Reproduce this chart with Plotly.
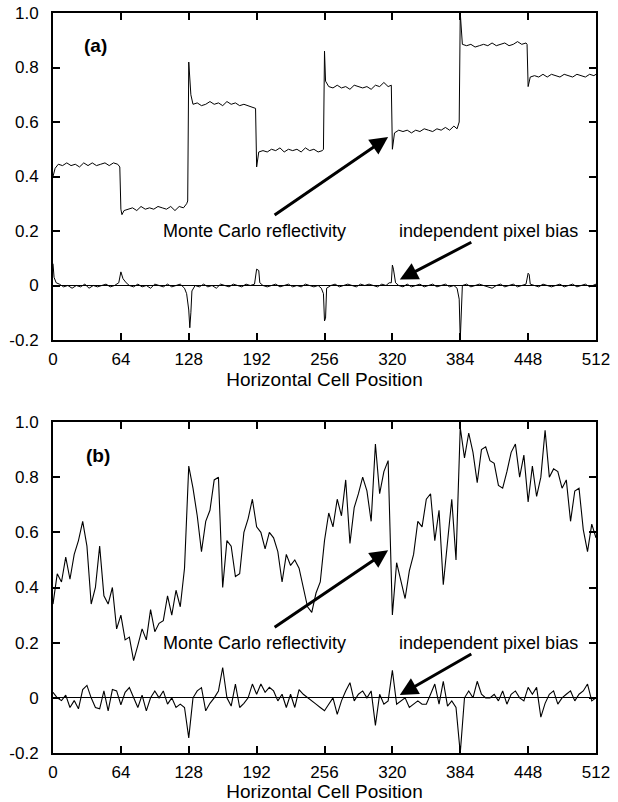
import plotly.graph_objects as go

# ---------------- data ----------------
# Panel (a): Monte Carlo reflectivity (cell position, value)
refl_a_x = [0, 2, 5, 9, 13, 17, 21, 25, 29, 33, 37, 41, 45, 49, 53, 57, 61, 63,
            64, 65, 67, 71, 75, 79, 83, 87, 91, 95, 99, 103, 107, 111, 115, 119, 123, 126, 127,
            128, 130, 132, 136, 140, 144, 148, 152, 156, 160, 164, 168, 172, 176, 180, 184, 188, 191,
            192, 194, 198, 202, 206, 210, 214, 218, 222, 226, 230, 234, 238, 242, 246, 250, 254, 255,
            256, 257, 260, 264, 268, 272, 276, 280, 284, 288, 292, 296, 300, 304, 308, 312, 316, 319,
            320, 322, 326, 330, 334, 338, 342, 346, 350, 354, 358, 362, 366, 370, 374, 378, 381, 383,
            384, 386, 390, 394, 398, 402, 406, 410, 414, 418, 422, 426, 430, 434, 438, 442, 446, 447,
            448, 450, 454, 458, 462, 466, 470, 474, 478, 482, 486, 490, 494, 498, 502, 506, 510, 512]
refl_a_y = [0.40, 0.43, 0.445, 0.44, 0.45, 0.44, 0.445, 0.435, 0.45, 0.44, 0.45, 0.44, 0.445, 0.45, 0.44, 0.45, 0.445, 0.435,
            0.28, 0.26, 0.275, 0.28, 0.285, 0.275, 0.29, 0.28, 0.285, 0.28, 0.29, 0.285, 0.28, 0.29, 0.275, 0.29, 0.285, 0.30, 0.31,
            0.82, 0.70, 0.665, 0.67, 0.66, 0.665, 0.675, 0.665, 0.67, 0.66, 0.675, 0.665, 0.67, 0.66, 0.665, 0.66, 0.655, 0.65,
            0.435, 0.49, 0.495, 0.49, 0.50, 0.495, 0.505, 0.49, 0.50, 0.495, 0.50, 0.49, 0.505, 0.495, 0.50, 0.49, 0.495, 0.50,
            0.86, 0.75, 0.73, 0.725, 0.735, 0.725, 0.73, 0.72, 0.735, 0.73, 0.725, 0.73, 0.72, 0.735, 0.73, 0.745, 0.73, 0.735,
            0.50, 0.56, 0.57, 0.565, 0.57, 0.56, 0.57, 0.565, 0.575, 0.57, 0.565, 0.575, 0.57, 0.58, 0.57, 0.585, 0.575, 0.60,
            1.0, 0.885, 0.88, 0.885, 0.875, 0.88, 0.885, 0.88, 0.89, 0.88, 0.885, 0.89, 0.88, 0.885, 0.895, 0.885, 0.89, 0.885,
            0.73, 0.765, 0.77, 0.765, 0.775, 0.765, 0.775, 0.77, 0.765, 0.775, 0.77, 0.765, 0.775, 0.77, 0.765, 0.775, 0.77, 0.775]

# Panel (a): independent pixel bias
bias_a_x = [0, 1, 3, 6, 10, 14, 18, 22, 26, 30, 34, 38, 42, 46, 50, 54, 58, 62,
            64, 66, 69, 72, 76, 80, 84, 88, 92, 96, 100, 104, 108, 112, 116, 120, 124, 126,
            128, 129, 130, 131, 134, 138, 142, 146, 150, 154, 158, 162, 166, 170, 174, 178, 182, 186, 190,
            192, 194, 195, 198, 202, 206, 210, 214, 218, 222, 226, 230, 234, 238, 242, 246, 250, 253, 255,
            256, 257, 258, 262, 266, 270, 274, 278, 282, 286, 290, 294, 298, 302, 306, 310, 314, 317, 319,
            320, 321, 323, 326, 330, 334, 338, 342, 346, 350, 354, 358, 362, 366, 370, 374, 378, 381, 383,
            384, 385, 386, 390, 394, 398, 402, 406, 410, 414, 418, 422, 426, 430, 434, 438, 442, 446,
            448, 449, 450, 454, 458, 462, 466, 470, 474, 478, 482, 486, 490, 494, 498, 502, 506, 510, 512]
bias_a_y = [0.08, 0.03, 0.01, 0.005, -0.005, 0.0, -0.01, 0.0, -0.005, 0.005, -0.01, 0.0, -0.005, 0.0, 0.005, -0.005, 0.0, 0.01,
            0.05, 0.025, 0.01, 0.0, -0.005, 0.005, -0.005, 0.0, -0.01, 0.005, 0.0, -0.005, 0.005, -0.005, 0.0, 0.005, -0.01, -0.03,
            -0.09, -0.155, -0.10, -0.02, 0.0, -0.005, 0.005, -0.005, 0.0, -0.01, 0.005, 0.0, -0.005, 0.005, 0.0, -0.005, 0.005, 0.0, 0.005,
            0.06, 0.055, 0.01, 0.0, -0.005, 0.0, 0.005, -0.005, 0.0, 0.005, -0.005, 0.0, -0.005, 0.005, 0.0, -0.005, 0.0, -0.01, -0.03,
            -0.13, -0.12, -0.01, 0.0, 0.005, -0.005, 0.0, 0.005, 0.0, -0.005, 0.005, 0.0, 0.005, 0.0, -0.005, 0.005, 0.0, 0.01, 0.01,
            0.075, 0.06, 0.01, 0.0, -0.005, 0.005, -0.005, 0.0, 0.005, -0.005, 0.0, 0.005, -0.005, 0.0, 0.005, -0.005, 0.0, -0.01, -0.05,
            -0.2, -0.08, 0.0, 0.005, -0.005, 0.0, 0.005, 0.0, -0.005, -0.01, 0.0, 0.005, -0.005, 0.0, 0.005, -0.005, 0.0, 0.005,
            0.045, 0.04, 0.005, 0.0, -0.005, 0.005, 0.0, -0.005, 0.0, 0.005, -0.005, 0.0, 0.005, -0.005, 0.0, 0.005, -0.005, 0.0, 0.005]

# Panel (b): sampled every 4 cells
cells_b = list(range(0, 513, 4))
refl_b = [0.34, 0.45, 0.42, 0.51, 0.43, 0.52, 0.57, 0.64, 0.55, 0.34, 0.40, 0.55, 0.37, 0.34, 0.40, 0.25,
          0.30, 0.21, 0.22, 0.135, 0.19, 0.25, 0.21, 0.32, 0.24, 0.27, 0.28, 0.37, 0.30, 0.39, 0.33, 0.47,
          0.84, 0.76, 0.66, 0.53, 0.64, 0.68, 0.79, 0.80, 0.40, 0.57, 0.55, 0.44, 0.45, 0.60, 0.65, 0.72,
          0.62, 0.60, 0.54, 0.60, 0.58, 0.53, 0.42, 0.52, 0.48, 0.50, 0.47, 0.40, 0.33, 0.31, 0.38, 0.42,
          0.57, 0.67, 0.62, 0.72, 0.66, 0.79, 0.56, 0.69, 0.74, 0.80, 0.75, 0.64, 0.92, 0.74, 0.82, 0.86,
          0.30, 0.49, 0.42, 0.36, 0.46, 0.52, 0.64, 0.62, 0.72, 0.74, 0.57, 0.68, 0.41, 0.57, 0.72, 0.50,
          0.98, 0.87, 0.96, 0.89, 0.78, 0.90, 0.91, 0.86, 0.85, 0.77, 0.76, 0.82, 0.89, 0.92, 0.80, 0.88,
          0.71, 0.84, 0.73, 0.80, 0.97, 0.80, 0.83, 0.82, 0.76, 0.79, 0.64, 0.75, 0.76, 0.61, 0.53, 0.63,
          0.58]
bias_b = [0.02, 0.00, -0.01, 0.01, -0.035, -0.01, -0.04, 0.03, 0.045, 0.00, -0.035, -0.04, 0.025, -0.047, 0.03, 0.025,
          -0.025, 0.02, 0.037, 0.00, -0.035, 0.01, -0.047, 0.00, 0.025, 0.00, 0.025, -0.023, 0.00, -0.035, -0.023, -0.035,
          -0.145, 0.00, 0.025, 0.037, -0.047, -0.02, 0.00, 0.025, 0.11, 0.00, -0.03, 0.05, -0.035, -0.02, 0.00, 0.05,
          0.013, 0.05, 0.02, 0.038, 0.025, -0.011, 0.013, -0.035, 0.013, -0.035, 0.03, 0.013, 0.00, -0.011, -0.023, -0.035,
          -0.047, -0.023, 0.00, -0.06, -0.011, 0.025, 0.055, -0.011, 0.013, 0.025, 0.00, 0.025, -0.10, 0.013, -0.023, -0.011,
          0.10, -0.023, -0.011, 0.00, -0.035, -0.023, -0.011, -0.023, -0.023, 0.013, 0.05, -0.023, 0.06, -0.03, -0.011, -0.035,
          -0.20, 0.00, 0.025, 0.00, 0.06, 0.013, 0.00, 0.00, 0.013, -0.011, 0.025, -0.023, 0.013, 0.025, 0.00, -0.011,
          0.038, 0.013, 0.038, -0.07, -0.02, 0.013, 0.025, -0.023, 0.00, 0.013, 0.025, -0.011, 0.013, 0.025, 0.05, -0.011,
          0.00]

assert len(refl_a_x) == len(refl_a_y)
assert len(bias_a_x) == len(bias_a_y)
assert len(cells_b) == len(refl_b) == len(bias_b)

x_ticks = [0, 64, 128, 192, 256, 320, 384, 448, 512]
y_ticks = [-0.2, 0, 0.2, 0.4, 0.6, 0.8, 1.0]
y_tick_text = ["-0.2", "0", "0.2", "0.4", "0.6", "0.8", "1.0"]

FONT = "Liberation Sans, Arial, Helvetica, sans-serif"
W, H = 618, 802

fig = go.Figure()
line_a = dict(color="black", width=1)
line_b = dict(color="black", width=1.1)
fig.add_trace(go.Scatter(x=refl_a_x, y=refl_a_y, mode="lines", line=line_a, xaxis="x", yaxis="y"))
fig.add_trace(go.Scatter(x=bias_a_x, y=bias_a_y, mode="lines", line=line_a, xaxis="x", yaxis="y"))
fig.add_trace(go.Scatter(x=cells_b, y=refl_b, mode="lines", line=line_b, xaxis="x2", yaxis="y2"))
fig.add_trace(go.Scatter(x=cells_b, y=bias_b, mode="lines", line=line_b, xaxis="x2", yaxis="y2"))

def xax(anchor):
    return dict(range=[0, 512], tickvals=x_ticks, ticks="inside", ticklen=7, tickwidth=1.5,
                tickcolor="black", showline=True, linewidth=2, linecolor="black", mirror="ticks",
                showgrid=False, zeroline=False, anchor=anchor, ticklabelstandoff=3,
                automargin=False, domain=[53 / W, 596 / W],
                tickfont=dict(family=FONT, size=17, color="black"),
                title=dict(text="Horizontal Cell Position", standoff=3,
                           font=dict(family=FONT, size=19, color="black")))

def yax(anchor, top, bottom):
    return dict(range=[-0.2, 1.0], tickvals=y_ticks, ticktext=y_tick_text, ticks="inside",
                ticklen=7, tickwidth=1.5, tickcolor="black", showline=True, linewidth=2,
                linecolor="black", mirror="ticks", showgrid=False, zeroline=True,
                zerolinecolor="black", zerolinewidth=1, anchor=anchor, ticklabelstandoff=9,
                automargin=False, domain=[1 - bottom / H, 1 - top / H],
                tickfont=dict(family=FONT, size=17, color="black"))

ann = []
for xr, yr, label in [("x", "y", "(a)"), ("x2", "y2", "(b)")]:
    ann.append(dict(x=40 if label == "(a)" else 42, y=0.88, xref=xr, yref=yr, text="<b>%s</b>" % label,
                    showarrow=False, font=dict(family=FONT, size=19, color="black")))
for xr, yr in [("x", "y"), ("x2", "y2")]:
    ann.append(dict(x=190, y=0.2, xref=xr, yref=yr, text="Monte Carlo reflectivity",
                    showarrow=False, font=dict(family=FONT, size=18, color="black")))
    ann.append(dict(x=411, y=0.2, xref=xr, yref=yr, text="independent pixel bias",
                    showarrow=False, font=dict(family=FONT, size=18, color="black")))
# arrows (heads in data coords, tails in pixel offsets)
arrow = dict(text="", showarrow=True, arrowhead=2, arrowsize=1.2, arrowwidth=3, arrowcolor="black",
             axref="pixel", ayref="pixel")
ann.append(dict(x=316, y=0.545, xref="x", yref="y", ax=-115, ay=79, **arrow))
ann.append(dict(x=327, y=0.022, xref="x", yref="y", ax=73, ay=-38, **arrow))
ann.append(dict(x=316, y=0.535, xref="x2", yref="y2", ax=-115, ay=78, **arrow))
ann.append(dict(x=327, y=0.01, xref="x2", yref="y2", ax=73, ay=-42, **arrow))

fig.update_layout(
    width=W, height=H, margin=dict(l=0, r=0, t=0, b=0, autoexpand=False),
    paper_bgcolor="white", plot_bgcolor="white", showlegend=False,
    xaxis=xax("y"), yaxis=yax("x", 13, 340),
    xaxis2=xax("y2"), yaxis2=yax("x2", 422, 753),
    annotations=ann,
    font=dict(family=FONT, color="black"),
)

fig.write_html("out.html")
